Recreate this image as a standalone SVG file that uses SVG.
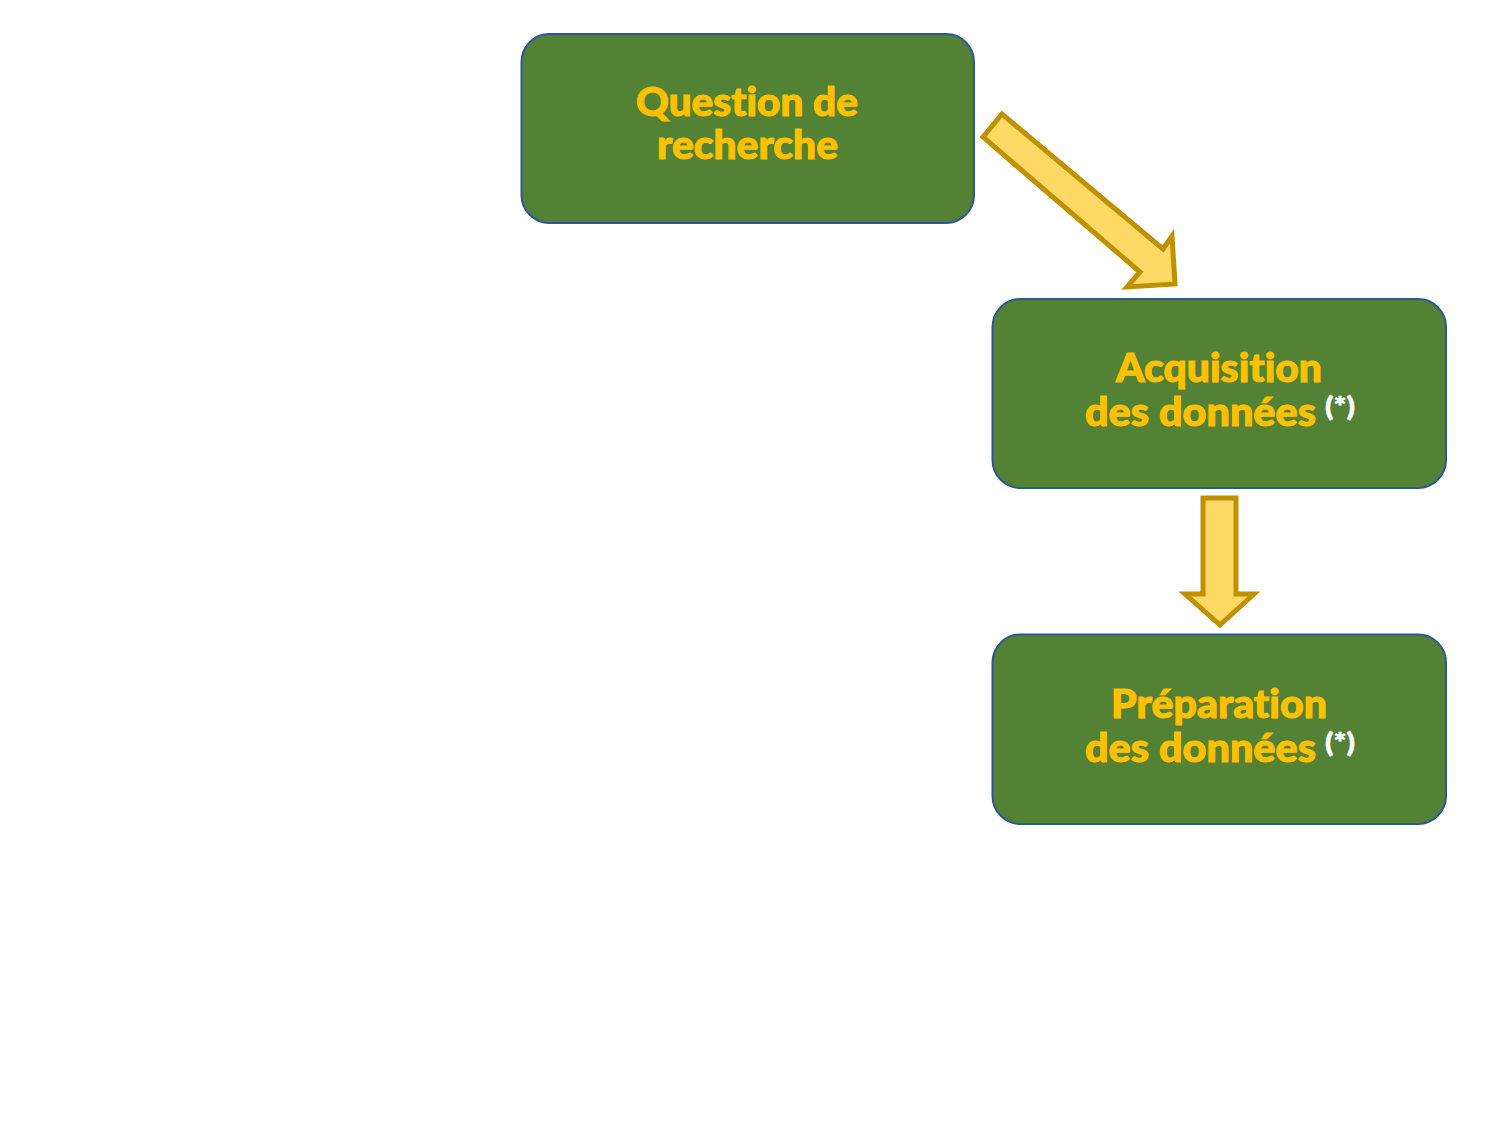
<svg xmlns="http://www.w3.org/2000/svg" width="1493" height="1125" viewBox="0 0 1493 1125">
<style>
.box{fill:#548235;stroke:#2F5597;stroke-width:2}
.t{font-family:Lato,"Open Sans","DejaVu Sans",sans-serif;font-weight:900;font-size:39px;fill:#FFC000;stroke:#FFC000;stroke-width:1;font-variant-ligatures:none}
.s{font-family:Lato,"Open Sans","DejaVu Sans",sans-serif;font-weight:900;font-size:27px;fill:#FFFFFF;stroke:#FFFFFF;stroke-width:0.6}
.arr{fill:#FFD966;stroke:#BF9000;stroke-width:5;stroke-linejoin:miter}
</style>
<rect width="1493" height="1125" fill="#FFFFFF"/>
<g id="connectors">
<polygon class="arr" points="983,137 1002,114 1163,249 1172,236 1175,284 1127,287 1140,272"/>
<polygon class="arr" points="1203,498 1236,498 1236,594 1254,594 1220,625 1185,594 1203,594"/>
</g>
<g id="node1">
<rect class="box" x="521.5" y="34" width="452.5" height="189" rx="28"/>
<text class="t" x="636" y="116" textLength="222" lengthAdjust="spacingAndGlyphs">Question de</text>
<text class="t" x="657" y="159" textLength="181" lengthAdjust="spacingAndGlyphs">recherche</text>
</g>
<g id="node2">
<rect class="box" x="992.5" y="299" width="453.5" height="189" rx="28"/>
<text class="t" x="1116" y="382" textLength="206" lengthAdjust="spacingAndGlyphs">Acquisition</text>
<text class="t" x="1085" y="426" textLength="231" lengthAdjust="spacingAndGlyphs">des données</text>
<text class="s" x="1325" y="416" textLength="30" lengthAdjust="spacingAndGlyphs">(*)</text>
</g>
<g id="node3">
<rect class="box" x="992.5" y="634.5" width="453.5" height="189.5" rx="28"/>
<text class="t" x="1111" y="718" textLength="216" lengthAdjust="spacingAndGlyphs">Préparation</text>
<text class="t" x="1085" y="762" textLength="231" lengthAdjust="spacingAndGlyphs">des données</text>
<text class="s" x="1325" y="752" textLength="30" lengthAdjust="spacingAndGlyphs">(*)</text>
</g>
</svg>
